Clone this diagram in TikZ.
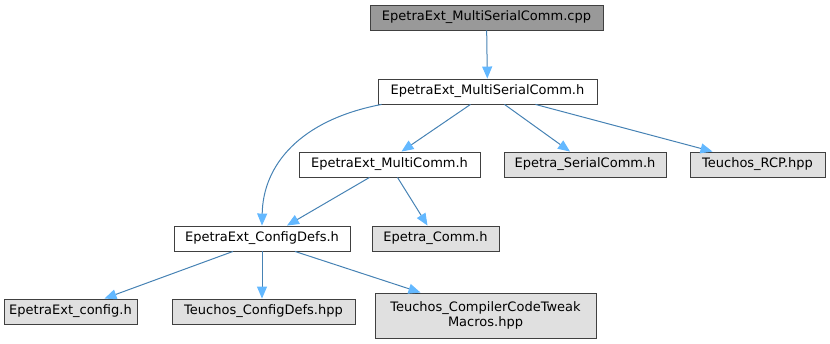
\documentclass[tikz,border=0pt]{standalone}
\usepackage{fontspec}
\setmainfont{DejaVu Sans}
\usetikzlibrary{arrows.meta,positioning}

\definecolor{edgeblue}{HTML}{4682B4}
\definecolor{tipblue}{HTML}{63B8FF}
\definecolor{filegray}{HTML}{E0E0E0}
\definecolor{maingray}{HTML}{999999}

\tikzset{
    file/.style={rectangle, draw=black!75, line width=0.9pt, fill=filegray, inner sep=0pt,
        minimum height=25pt, font=\fontsize{13}{14.5}\selectfont, align=center},
    local/.style={file, fill=white},
    dep/.style={draw=edgeblue, line width=1pt,
        -{Triangle[length=12pt, width=10pt, fill=tipblue, color=tipblue]}}
}

\begin{document}
\begin{tikzpicture}[x=1pt, y=-1pt]
    \useasboundingbox (0,0) rectangle (830,344);

    \node[file, fill=maingray, minimum width=233pt] (cpp) at (486.5,17.5) {EpetraExt\_MultiSerialComm.cpp};
    \node[local, minimum width=219pt] (msch) at (487.5,91.5) {EpetraExt\_MultiSerialComm.h};
    \node[local, minimum width=181pt] (multi) at (389.5,164.5) {EpetraExt\_MultiComm.h};
    \node[file, minimum width=162pt] (serial) at (585,164.5) {Epetra\_SerialComm.h};
    \node[file, minimum width=135pt] (rcp) at (757.5,164.5) {Teuchos\_RCP.hpp};
    \node[local, minimum width=176pt] (cfgdefs) at (262,238.5) {EpetraExt\_ConfigDefs.h};
    \node[file, minimum width=127pt] (comm) at (435.5,238.5) {Epetra\_Comm.h};
    \node[file, minimum width=133pt] (extcfg) at (70.5,311.5) {EpetraExt\_config.h};
    \node[file, minimum width=183pt] (tcfg) at (263.5,311.5) {Teuchos\_ConfigDefs.hpp};
    \node[file, minimum width=221pt, minimum height=45pt] (tweak) at (485.5,315.5) {Teuchos\_CompilerCodeTweak\\Macros.hpp};

    \draw[dep] (cpp) -- (msch);
    \draw[dep] ([xshift=4pt]msch.south west) .. controls (300,120) and (263,165) .. (cfgdefs.north);
    \draw[dep] ([xshift=-17pt]msch.south) -- ([xshift=12pt]multi.north);
    \draw[dep] ([xshift=17pt]msch.south) -- ([xshift=-15pt]serial.north);
    \draw[dep] ([xshift=48pt]msch.south) -- ([xshift=-45pt]rcp.north);
    \draw[dep] ([xshift=-20pt]multi.south) -- ([xshift=25pt]cfgdefs.north);
    \draw[dep] ([xshift=8pt]multi.south) -- ([xshift=-8pt]comm.north);
    \draw[dep] ([xshift=-29pt]cfgdefs.south) -- ([xshift=34pt]extcfg.north);
    \draw[dep] (cfgdefs.south) -- ([xshift=-1.5pt]tcfg.north);
    \draw[dep] ([xshift=33pt]cfgdefs.south) -- ([xshift=-65pt]tweak.north);
\end{tikzpicture}
\end{document}
